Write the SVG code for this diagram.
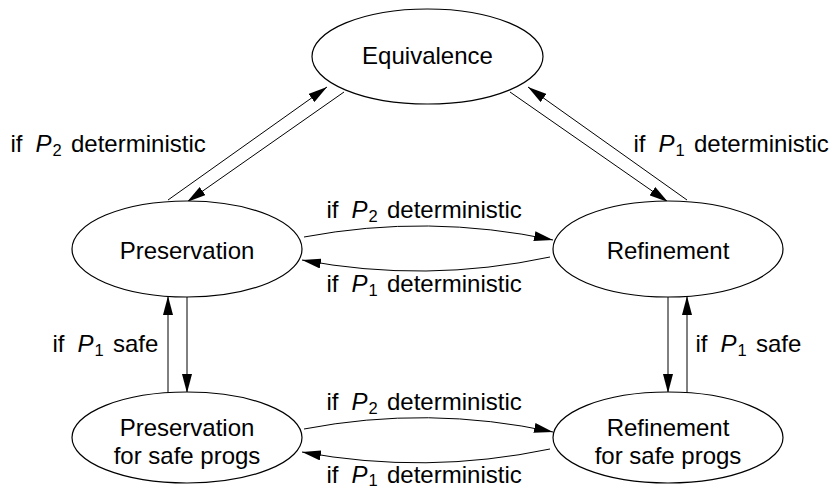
<svg xmlns="http://www.w3.org/2000/svg" width="838" height="489" viewBox="0 0 838 489">
<style>
  .node ellipse { fill: #fff; stroke: #000; stroke-width: 1.2; }
  text { font-family: "Liberation Sans", Arial, sans-serif; font-size: 24px; fill: #000; }
  .c { text-anchor: middle; }
  .it { font-style: italic; }
  .sub { font-size: 16.5px; }
  #edges path { fill: none; stroke: #000; stroke-width: 1; marker-end: url(#ah); }
</style>
<defs>
  <marker id="ah" viewBox="0 0 19 10" refX="19" refY="5" markerWidth="19" markerHeight="10" markerUnits="userSpaceOnUse" orient="auto">
    <path d="M0,0 L19,5 L0,10 Z" fill="#000"/>
  </marker>
</defs>
<rect width="838" height="489" fill="#fff"/>

<g id="edges">
  <path d="M168,200 L327,87"/>
  <path d="M344,92 L187,202"/>
  <path d="M510,92 L668,202"/>
  <path d="M687,200 L528,87"/>
  <path d="M304,237 Q428.5,213.5 553,240"/>
  <path d="M550,257 Q426,283.5 302,260"/>
  <path d="M168,393 L168,296"/>
  <path d="M187,296 L187,393"/>
  <path d="M668,296 L668,393"/>
  <path d="M687,393 L687,296"/>
  <path d="M304,429 Q428.5,405 553,432"/>
  <path d="M550,449 Q426,475 302,452"/>
</g>

<g id="n-equivalence" class="node">
  <ellipse cx="427.5" cy="56.5" rx="115.5" ry="47.5"/>
  <text class="c" x="427.5" y="64">Equivalence</text>
</g>
<g id="n-preservation" class="node">
  <ellipse cx="187" cy="249" rx="115" ry="48"/>
  <text class="c" x="187" y="259">Preservation</text>
</g>
<g id="n-refinement" class="node">
  <ellipse cx="668" cy="249" rx="115" ry="48"/>
  <text class="c" x="668" y="259">Refinement</text>
</g>
<g id="n-preservation-safe" class="node">
  <ellipse cx="187" cy="437.5" rx="115" ry="45.5"/>
  <text class="c" x="187" y="436">Preservation</text>
  <text class="c" x="187" y="464">for safe progs</text>
</g>
<g id="n-refinement-safe" class="node">
  <ellipse cx="668" cy="437.5" rx="115" ry="45.5"/>
  <text class="c" x="668" y="436">Refinement</text>
  <text class="c" x="668" y="464">for safe progs</text>
</g>

<g id="labels">
  <text y="152"><tspan x="10.5">if</tspan><tspan class="it" x="35.5">P</tspan><tspan class="sub" x="52.5" dy="4">2</tspan><tspan x="71" dy="-4">deterministic</tspan></text>
  <text y="152"><tspan x="633.5">if</tspan><tspan class="it" x="658.5">P</tspan><tspan class="sub" x="675.5" dy="4">1</tspan><tspan x="694" dy="-4">deterministic</tspan></text>
  <text y="218"><tspan x="326.5">if</tspan><tspan class="it" x="351.5">P</tspan><tspan class="sub" x="368.5" dy="4">2</tspan><tspan x="387" dy="-4">deterministic</tspan></text>
  <text y="292"><tspan x="326.5">if</tspan><tspan class="it" x="351.5">P</tspan><tspan class="sub" x="368.5" dy="4">1</tspan><tspan x="387" dy="-4">deterministic</tspan></text>
  <text y="410"><tspan x="326.5">if</tspan><tspan class="it" x="351.5">P</tspan><tspan class="sub" x="368.5" dy="4">2</tspan><tspan x="387" dy="-4">deterministic</tspan></text>
  <text y="483"><tspan x="326.5">if</tspan><tspan class="it" x="351.5">P</tspan><tspan class="sub" x="368.5" dy="3">1</tspan><tspan x="387" dy="-3">deterministic</tspan></text>
  <text y="352"><tspan x="52.5">if</tspan><tspan class="it" x="77.5">P</tspan><tspan class="sub" x="94.5" dy="4">1</tspan><tspan x="113" dy="-4">safe</tspan></text>
  <text y="352"><tspan x="695.5">if</tspan><tspan class="it" x="720.5">P</tspan><tspan class="sub" x="737.5" dy="4">1</tspan><tspan x="756" dy="-4">safe</tspan></text>
</g>
</svg>
